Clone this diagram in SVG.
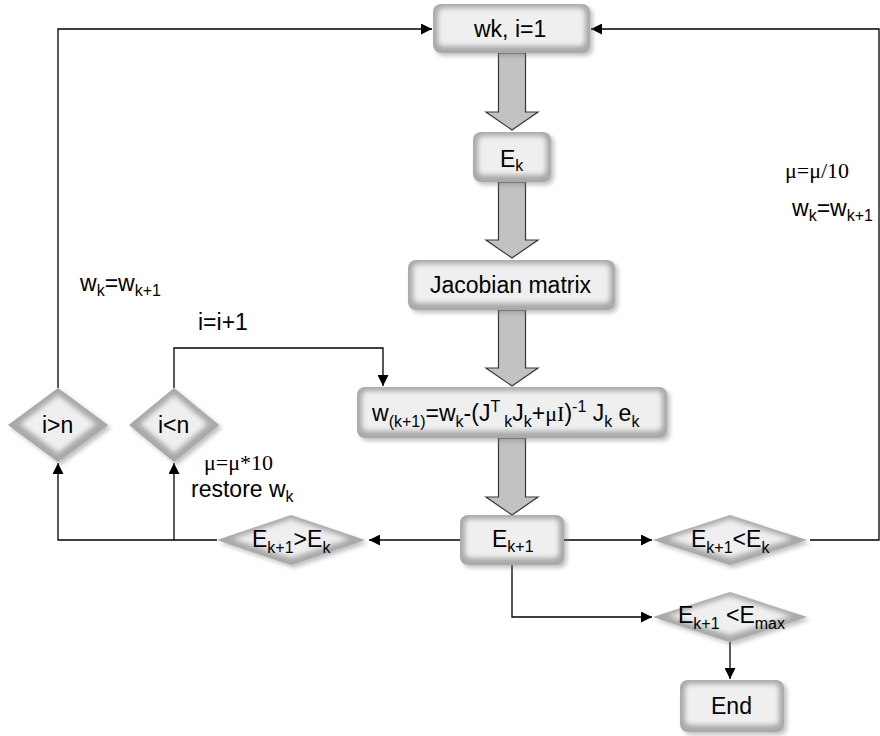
<svg xmlns="http://www.w3.org/2000/svg" width="880" height="736" viewBox="0 0 880 736">
<style>
.t{font-family:"Liberation Sans",Arial,sans-serif;font-size:23px;fill:#000}
.s{font-size:16px}
.serif{font-family:"Liberation Serif","Times New Roman",serif;font-size:22px}
.base{fill:#a9a9a9}
.hi{fill:#efefef;filter:url(#soft)}
.shadow{fill:#777;opacity:.45;filter:url(#sh)}
.big{fill:#c2c2c2;stroke:#383838;stroke-width:1.2}
.ca{fill:none;stroke:#000;stroke-width:1.3;marker-end:url(#ah)}
</style>
<defs>
<filter id="sh" x="-20%" y="-40%" width="150%" height="190%"><feGaussianBlur stdDeviation="2"/></filter>
<filter id="soft" x="-20%" y="-50%" width="140%" height="200%"><feGaussianBlur stdDeviation="2.5"/></filter>
<marker id="ah" viewBox="0 0 10 10" refX="10" refY="5" markerWidth="12" markerHeight="11" markerUnits="userSpaceOnUse" orient="auto"><path d="M0,0 L10,5 L0,10 z" fill="#000"/></marker>
</defs>

<g id="connectors">
<polyline class="ca" points="58,388 58,29 432,29"/>
<polyline class="ca" points="810,540 879,540 879,29 591,29"/>
<polyline class="ca" points="174,388 174,348 383,348 383,386"/>
<line class="ca" x1="460" y1="540" x2="369" y2="540"/>
<polyline class="ca" points="217,540 58,540 58,463"/>
<line class="ca" x1="174" y1="540" x2="174" y2="463"/>
<line class="ca" x1="564" y1="540" x2="652" y2="540"/>
<polyline class="ca" points="512,565 512,617 652,617"/>
<line class="ca" x1="730" y1="642" x2="730" y2="679"/>
<polygon class="big" points="498.5,53 525.5,53 525.5,112 538,112 512,130 486,112 498.5,112"/>
<polygon class="big" points="498.5,182 525.5,182 525.5,240 538,240 512,258 486,240 498.5,240"/>
<polygon class="big" points="498.5,310 525.5,310 525.5,368 538,368 512,386 486,368 498.5,368"/>
<polygon class="big" points="498.5,438 525.5,438 525.5,497 538,497 512,515 486,497 498.5,497"/>
</g>

<g id="n-start">
<rect class="shadow" x="436" y="7" width="157" height="49" rx="8"/>
<rect class="base" x="433" y="4" width="157" height="49" rx="8"/>
<rect class="hi" x="438" y="8" width="147" height="38" rx="5"/>
<text class="t" x="474" y="37">wk, i=1</text>
</g>

<g id="n-ek">
<rect class="shadow" x="476" y="135" width="78" height="50" rx="8"/>
<rect class="base" x="473" y="132" width="78" height="50" rx="8"/>
<rect class="hi" x="478" y="136" width="68" height="39" rx="5"/>
<text class="t" x="500" y="167">E<tspan class="s" dy="4">k</tspan></text>
</g>

<g id="n-jac">
<rect class="shadow" x="411" y="263" width="207" height="50" rx="8"/>
<rect class="base" x="408" y="260" width="207" height="50" rx="8"/>
<rect class="hi" x="413" y="264" width="197" height="39" rx="5"/>
<text class="t" x="430" y="293">Jacobian matrix</text>
</g>

<g id="n-update">
<rect class="shadow" x="360" y="390" width="310" height="51" rx="8"/>
<rect class="base" x="357" y="387" width="310" height="51" rx="8"/>
<rect class="hi" x="362" y="391" width="300" height="40" rx="5"/>
<text class="t" x="372" y="421">w<tspan class="s" dy="6">(k+1)</tspan><tspan dy="-6">=w</tspan><tspan class="s" dy="6">k</tspan><tspan dy="-6">-(J</tspan><tspan class="s" dy="-9">T</tspan><tspan class="s" dy="15"> k</tspan><tspan dy="-6">J</tspan><tspan class="s" dy="6">k</tspan><tspan dy="-6">+</tspan><tspan class="serif" font-size="24">μI</tspan><tspan>)</tspan><tspan class="s" dy="-9">-1</tspan><tspan dy="9">  J</tspan><tspan class="s" dy="6">k</tspan><tspan dy="-6"> e</tspan><tspan class="s" dy="6">k</tspan></text>
</g>

<g id="n-ek1">
<rect class="shadow" x="463" y="518" width="104" height="50" rx="8"/>
<rect class="base" x="460" y="515" width="104" height="50" rx="8"/>
<rect class="hi" x="465" y="519" width="94" height="39" rx="5"/>
<text class="t" x="492" y="547">E<tspan class="s" dy="5">k+1</tspan></text>
</g>

<g id="n-end">
<rect class="shadow" x="683" y="683" width="104" height="52" rx="8"/>
<rect class="base" x="680" y="680" width="104" height="52" rx="8"/>
<rect class="hi" x="685" y="684" width="94" height="41" rx="5"/>
<text class="t" x="711" y="714">End</text>
</g>

<g id="d-igtn">
<polygon class="shadow" points="61,391 111,428 61,465 11,428"/>
<polygon class="base" points="58,388 108,425 58,462 8,425"/>
<polygon class="hi" points="58,395 96,424 58,453 20,424"/>
<text class="t" x="42" y="433">i&gt;n</text>
</g>

<g id="d-iltn">
<polygon class="shadow" points="177,391 222,428 177,465 132,428"/>
<polygon class="base" points="174,388 219,425 174,462 129,425"/>
<polygon class="hi" points="174,395 208,424 174,453 140,424"/>
<text class="t" x="158" y="433">i&lt;n</text>
</g>

<g id="d-gt">
<polygon class="shadow" points="294,518 368,543 294,568 220,543"/>
<polygon class="base" points="291,515 365,540 291,565 217,540"/>
<polygon class="hi" points="291,519 350,539 291,558 232,539"/>
<text class="t" x="252" y="547">E<tspan class="s" dy="6">k+1</tspan><tspan dy="-6">&gt;E</tspan><tspan class="s" dy="6">k</tspan></text>
</g>

<g id="d-lt">
<polygon class="shadow" points="733,518 810,543 733,568 656,543"/>
<polygon class="base" points="730,515 807,540 730,565 653,540"/>
<polygon class="hi" points="730,519 792,539 730,558 668,539"/>
<text class="t" x="691" y="547">E<tspan class="s" dy="6">k+1</tspan><tspan dy="-6">&lt;E</tspan><tspan class="s" dy="6">k</tspan></text>
</g>

<g id="d-emax">
<polygon class="shadow" points="733,595 810,620 733,645 656,620"/>
<polygon class="base" points="730,592 807,617 730,642 653,617"/>
<polygon class="hi" points="730,596 792,616 730,635 668,616"/>
<text class="t" x="678" y="623">E<tspan class="s" dy="6">k+1</tspan><tspan dy="-6"> &lt;E</tspan><tspan class="s" dy="6">max</tspan></text>
</g>

<g id="labels">
<text class="t" x="80" y="291">w<tspan class="s" dy="5">k</tspan><tspan dy="-5">=w</tspan><tspan class="s" dy="5">k+1</tspan></text>
<text class="t" x="198" y="330">i=i+1</text>
<text class="t serif" x="204" y="470">μ=μ*10</text>
<text class="t" x="191" y="497">restore w<tspan class="s" dy="5">k</tspan></text>
<text class="t serif" x="785" y="178">μ=μ/10</text>
<text class="t" x="792" y="216">w<tspan class="s" dy="5">k</tspan><tspan dy="-5">=w</tspan><tspan class="s" dy="5">k+1</tspan></text>
</g>
</svg>
